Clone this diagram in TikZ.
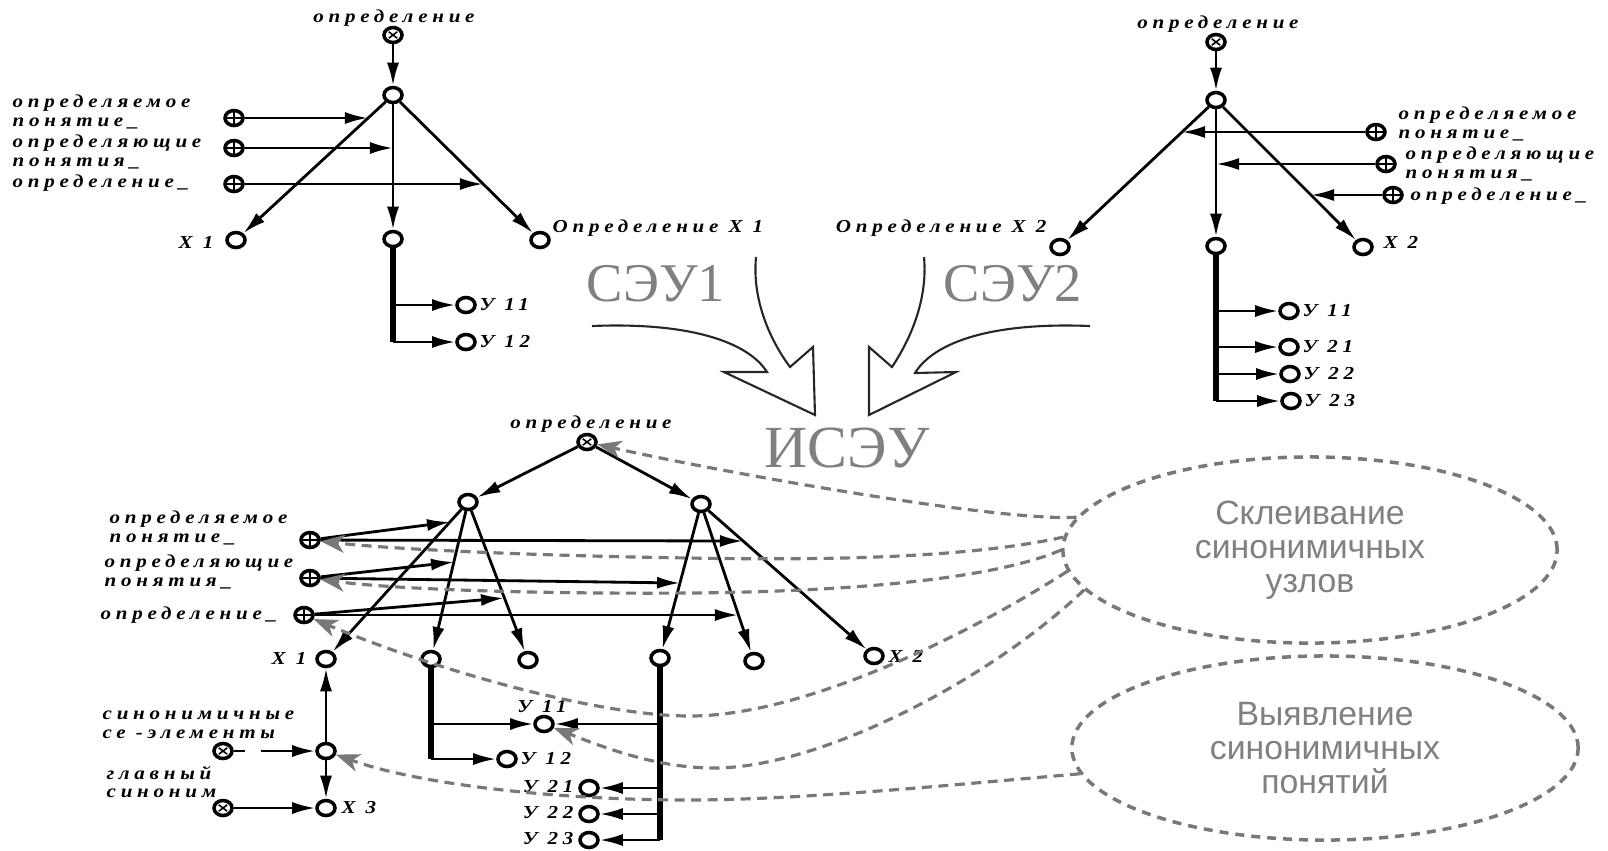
\documentclass[tikz,border=0pt]{standalone}
\usepackage{fontspec}
\setmainfont{Liberation Serif}
\newfontfamily\lblfont[LetterSpace=26,FakeStretch=1.15]{Liberation Serif}
\newfontfamily\bigfont{Liberation Serif}
\newfontfamily\ellfont{Liberation Sans}
\usetikzlibrary{arrows.meta,shapes.geometric}
\definecolor{gl}{RGB}{120,120,120}
\definecolor{gt}{RGB}{128,128,128}
\begin{document}
\begin{tikzpicture}[x=0.01cm,y=-0.01cm,
 nd/.style={ellipse,draw,line width=1pt,minimum width=1.8mm,minimum height=1.5mm,inner sep=0pt,fill=white},
 ox/.style={nd,path picture={\draw[line width=0.45pt]
   ([shift={(-0.42mm,-0.32mm)}]path picture bounding box.center) -- ([shift={(0.42mm,0.32mm)}]path picture bounding box.center)
   ([shift={(-0.42mm,0.32mm)}]path picture bounding box.center) -- ([shift={(0.42mm,-0.32mm)}]path picture bounding box.center);}},
 op/.style={nd,path picture={\draw[line width=0.45pt]
   (path picture bounding box.north) -- (path picture bounding box.south)
   (path picture bounding box.west) -- (path picture bounding box.east);}},
 ar/.style={line width=0.8pt,-{Latex[length=2.3mm,width=1.2mm]}},
 tk/.style={line width=1.7pt},
 gd/.style={gl,line width=0.9pt,dash pattern=on 1mm off 0.65mm,-{Stealth[length=2.4mm,width=1.8mm,inset=0.7mm]}},
 lbl/.style={font=\lblfont\bfseries\itshape\fontsize{5.2}{5.4}\selectfont,inner sep=0pt,align=left},
 big/.style={font=\bigfont\fontsize{15.5}{17}\selectfont,text=gt,inner sep=0pt},
 ell/.style={ellipse,draw=gl,line width=1pt,dash pattern=on 0.9mm off 0.7mm,inner sep=0pt,align=center,text=gt,font=\ellfont\fontsize{9.6}{9.6}\selectfont},
 hol/.style={line width=0.6pt,black!85}
]
\path[use as bounding box] (0,0) rectangle (1608,850);

% ---------------- top-left tree ----------------
\node[ox] (A0) at (393,35) {};
\node[lbl] (A0l) at (394,18) {определение};
\node[nd] (A1) at (393,95) {};
\node[nd] (AX) at (236,240) {};
\node[nd] (AM) at (393,239) {};
\node[nd] (AR) at (540,240) {};
\node[op] (Ap1) at (234,118) {};
\node[op] (Ap2) at (234,148) {};
\node[op] (Ap3) at (234,184) {};
\coordinate (a1t) at (368,118);
\coordinate (a2t) at (393,148);
\coordinate (a3t) at (483,184);
\coordinate (Ab1) at (393,305);
\coordinate (Ab2) at (393,342);
\node[nd] (Ay1) at (466,305) {};
\node[nd] (Ay2) at (466,342) {};
\draw[ar] (A0) -- (A1);
\draw[ar] (A1) -- (AX);
\draw[ar] (A1) -- (AM);
\draw[ar] (A1) -- (AR);
\draw[ar] (Ap1) -- (a1t);
\draw[ar] (Ap2) -- (a2t);
\draw[ar] (Ap3) -- (a3t);
\draw[tk] (AM) -- (Ab2);
\draw[ar] (Ab1) -- (Ay1);
\draw[ar] (Ab2) -- (Ay2);
\node[lbl,anchor=west] (Al1) at (12,112) {определяемое\\понятие\_};
\node[lbl,anchor=west] (Al2) at (12,152) {определяющие\\понятия\_};
\node[lbl,anchor=west] (Al3) at (12,183) {определение\_};
\node[lbl,anchor=east] (AXl) at (214,242) {X 1};
\node[lbl,anchor=west] (ARl) at (552,228) {Определение X 1};
\node[lbl,anchor=west] (Ay1l) at (479,305) {У 11};
\node[lbl,anchor=west] (Ay2l) at (479,342) {У 12};

% ---------------- top-right tree ----------------
\node[ox] (B0) at (1216,42) {};
\node[lbl] (B0l) at (1218,24) {определение};
\node[nd] (B1) at (1216,100) {};
\node[nd] (BL) at (1060,247) {};
\node[nd] (BM) at (1216,246) {};
\node[nd] (BR) at (1363,247) {};
\node[op] (Bp1) at (1376,132) {};
\node[op] (Bp2) at (1386,164) {};
\node[op] (Bp3) at (1393,195) {};
\coordinate (b1t) at (1182,132);
\coordinate (b2t) at (1216,164);
\coordinate (b3t) at (1311,195);
\coordinate (Bb1) at (1216,311);
\coordinate (Bb2) at (1216,347);
\coordinate (Bb3) at (1216,374);
\coordinate (Bb4) at (1216,401);
\node[nd] (By1) at (1289,311) {};
\node[nd] (By2) at (1289,347) {};
\node[nd] (By3) at (1290,374) {};
\node[nd] (By4) at (1291,401) {};
\draw[ar] (B0) -- (B1);
\draw[ar] (B1) -- (BL);
\draw[ar] (B1) -- (BM);
\draw[ar] (B1) -- (BR);
\draw[ar] (Bp1) -- (b1t);
\draw[ar] (Bp2) -- (b2t);
\draw[ar] (Bp3) -- (b3t);
\draw[tk] (BM) -- (Bb4);
\draw[ar] (Bb1) -- (By1);
\draw[ar] (Bb2) -- (By2);
\draw[ar] (Bb3) -- (By3);
\draw[ar] (Bb4) -- (By4);
\node[lbl,anchor=west] (Bl1) at (1398,124) {определяемое\\понятие\_};
\node[lbl,anchor=west] (Bl2) at (1405,164) {определяющие\\понятия\_};
\node[lbl,anchor=west] (Bl3) at (1410,196) {определение\_};
\node[lbl,anchor=east] (BLl) at (1047,228) {Определение X 2};
\node[lbl,anchor=west] (BRl) at (1383,242) {X 2};
\node[lbl,anchor=west] (By1l) at (1302,311) {У 11};
\node[lbl,anchor=west] (By2l) at (1302,347) {У 21};
\node[lbl,anchor=west] (By3l) at (1303,374) {У 22};
\node[lbl,anchor=west] (By4l) at (1304,401) {У 23};

% ---------------- big labels and hollow arrows ----------------
\node[big] (S1) at (656,284) {СЭУ1};
\node[big] (S2) at (1013,284) {СЭУ2};
\node[big,font=\bigfont\fontsize{17}{18}\selectfont] (IS) at (847,448) {ИСЭУ};
\draw[hol] (592,326) .. controls (690,322) and (748,342) .. (767,372) -- (724,372) -- (815,415) -- (813,347) -- (790,367) .. controls (770,340) and (752,300) .. (756,257);
\draw[hol] (924,257) .. controls (928,300) and (910,340) .. (892,367) -- (869,347) -- (869,415) -- (956,372) -- (915,373) .. controls (934,342) and (992,322) .. (1090,326);

% ---------------- bottom tree ----------------
\node[ox] (C0) at (587,442) {};
\node[lbl] (C0l) at (591,424) {определение};
\node[nd] (CL) at (468,502) {};
\node[nd] (CR) at (701,504) {};
\node[op] (Cp1) at (310,540) {};
\node[op] (Cp2) at (310,578) {};
\node[op] (Cp3) at (304,615) {};
\node[nd] (CX1) at (326,659) {};
\node[nd] (Cb2) at (431,659) {};
\node[nd] (Cb3) at (528,660) {};
\node[nd] (Cb4) at (660,658) {};
\node[nd] (Cb5) at (754,661) {};
\node[nd] (CX2) at (874,656) {};
\coordinate (c1s) at (450,522);
\coordinate (c1h) at (743,541);
\coordinate (c2s) at (454,562);
\coordinate (c2h) at (680,583);
\coordinate (c3s) at (504,598);
\coordinate (c3h) at (738,615);
\draw[ar] (C0) -- (CL);
\draw[ar] (C0) -- (CR);
\draw[ar] (CL) -- (CX1);
\draw[ar] (CL) -- (Cb2);
\draw[ar] (CL) -- (Cb3);
\draw[ar] (CR) -- (Cb4);
\draw[ar] (CR) -- (Cb5);
\draw[ar] (CR) -- (CX2);
\draw[ar] (Cp1) -- (c1s);
\draw[ar] (Cp1) -- (c1h);
\draw[ar] (Cp2) -- (c2s);
\draw[ar] (Cp2) -- (c2h);
\draw[ar] (Cp3) -- (c3s);
\draw[ar] (Cp3) -- (c3h);
\node[lbl,anchor=west] (Cl1) at (109,528) {определяемое\\понятие\_};
\node[lbl,anchor=west] (Cl2) at (104,572) {определяющие\\понятия\_};
\node[lbl,anchor=west] (Cl3) at (100,615) {определение\_};
\node[lbl,anchor=east] (CX1l) at (307,658) {X 1};
\node[lbl,anchor=west] (CX2l) at (888,656) {X 2};

% lower part
\coordinate (Cd1) at (431,724);
\coordinate (Cd2) at (431,759);
\node[nd] (Cy11) at (544,724) {};
\node[nd] (Cy12) at (507,759) {};
\coordinate (Ce1) at (660,724);
\coordinate (Ce2) at (660,788);
\coordinate (Ce3) at (660,814);
\coordinate (Ce4) at (660,840);
\node[nd] (Cy21) at (589,788) {};
\node[nd] (Cy22) at (589,814) {};
\node[nd] (Cy23) at (589,840) {};
\draw[tk] (Cb2) -- (Cd2);
\draw[ar] (Cd1) -- (Cy11);
\draw[ar] (Cd2) -- (Cy12);
\draw[tk] (Cb4) -- (Ce4);
\draw[ar] (Ce1) -- (Cy11);
\draw[ar] (Ce2) -- (Cy21);
\draw[ar] (Ce3) -- (Cy22);
\draw[ar] (Ce4) -- (Cy23);
\node[lbl] (Cy11l) at (542,707) {У 11};
\node[lbl,anchor=west] (Cy12l) at (520,759) {У 12};
\node[lbl,anchor=east] (Cy21l) at (574,787) {У 21};
\node[lbl,anchor=east] (Cy22l) at (574,813) {У 22};
\node[lbl,anchor=east] (Cy23l) at (574,839) {У 23};

\node[nd] (CM) at (326,751) {};
\node[nd] (CX3) at (326,808) {};
\node[ox] (Cs1) at (223,751) {};
\node[ox] (Cs2) at (223,808) {};
\draw[ar] (CM) -- (CX1);
\draw[ar] (CM) -- (CX3);
\draw[ar,dash pattern=on 1.1mm off 1.6mm on 20mm off 1mm] (Cs1) -- (CM);
\draw[ar] (Cs2) -- (CX3);
\node[lbl,anchor=west] (Csl1) at (102,725) {синонимичные\\се -элементы};
\node[lbl,anchor=west] (Csl2) at (106,782) {главный\\синоним};
\node[lbl,anchor=west] (CX3l) at (341,808) {X 3};

% ---------------- ellipses and gray links ----------------
\node[ell,minimum width=4.94cm,minimum height=1.86cm] (E1) at (1310,550) {Склеивание\\синонимичных\\узлов};
\node[ell,minimum width=5.06cm,minimum height=1.84cm] (E2) at (1325,748) {Выявление\\синонимичных\\понятий};

\draw[gd] (E1.172) .. controls (1000,522) and (720,472) .. (C0);
\draw[gd] (E1.177) .. controls (960,560) and (800,560) .. (690,558) .. controls (550,556) and (400,550) .. (Cp1);
\draw[gd] (E1.180) .. controls (980,585) and (800,592) .. (690,593) .. controls (550,594) and (400,590) .. (Cp2);
\draw[gd] (E1.185) .. controls (960,640) and (800,716) .. (690,716) .. controls (600,716) and (440,672) .. (Cp3);
\draw[gd] (E1.190) .. controls (990,680) and (820,768) .. (714,768) .. controls (660,768) and (610,750) .. (Cy11);
\draw[gd] (E2.186) .. controls (950,785) and (800,800) .. (688,800) .. controls (560,800) and (420,785) .. (CM);
\end{tikzpicture}
\end{document}
